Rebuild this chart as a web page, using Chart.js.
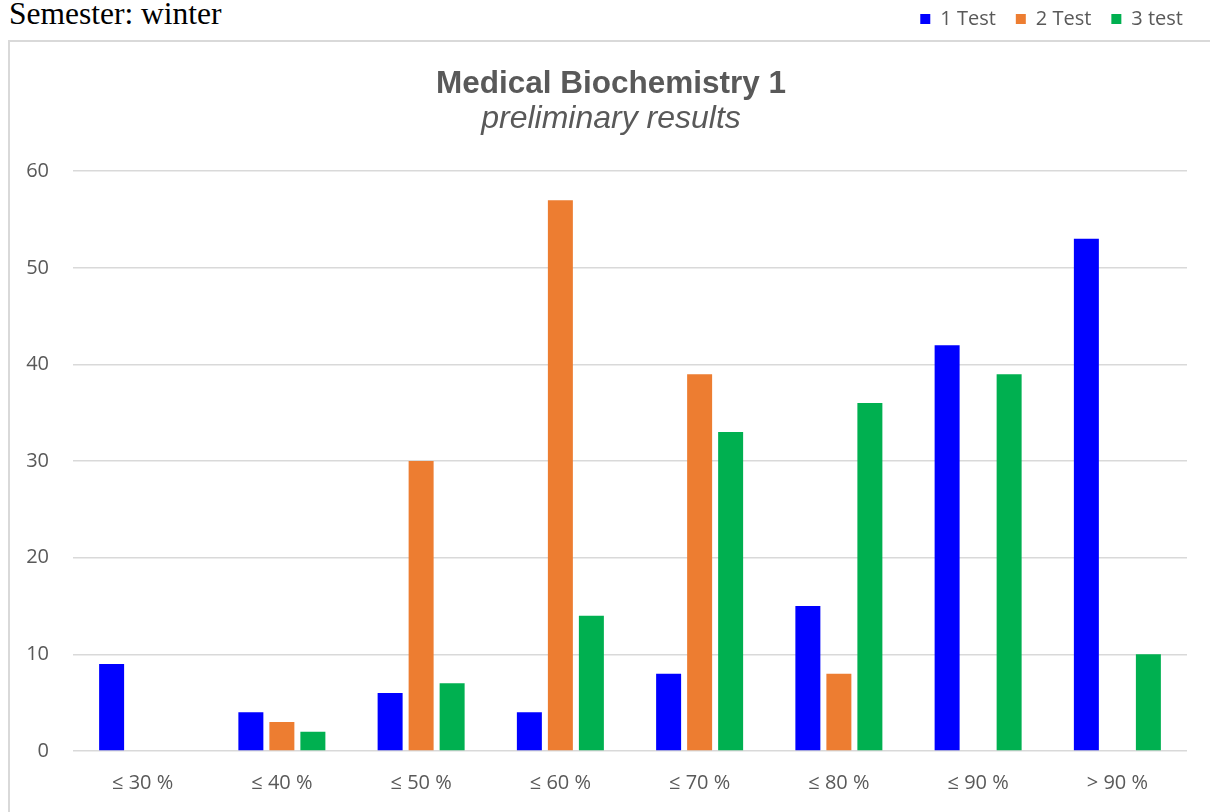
<!DOCTYPE html>
<html lang="en">
<head>
    <meta charset="UTF-8">
    <title>Medical Biochemistry 1 - preliminary results</title>
    <script src="https://cdn.jsdelivr.net/npm/chart.js"></script>
    <style>
        html, body {
            margin: 0;
            padding: 0;
            background: white;
            overflow: hidden;
        }
        #semestr {
            position: absolute;
            left: 9px;
            top: -2px;
            font-family: "Liberation Serif", "Times New Roman", serif;
            font-size: 31.5px;
            line-height: 31px;
            color: #000;
        }
        #ramecek {
            position: absolute;
            left: 8px;
            top: 40px;
            width: 1300px;
            height: 900px;
            border: 2px solid #d9d9d9;
        }
        #obal {
            position: absolute;
            left: 9px;
            top: 0;
            width: 1201px;
            height: 812px;
        }
    </style>
</head>
<body>
    <div id="semestr">Semester: winter</div>
    <div id="ramecek"></div>
    <div id="obal"><canvas id="graf"></canvas></div>

    <script>
        // kategorie (hranice úspěšnosti)
        const kategorie = ["≤ 30 %", "≤ 40 %", "≤ 50 %", "≤ 60 %", "≤ 70 %", "≤ 80 %", "≤ 90 %", "> 90 %"];

        // počty studentů v jednotlivých testech
        const test1 = [9, 4, 6, 4, 8, 15, 42, 53];
        const test2 = [null, 3, 30, 57, 39, 8, null, null];
        const test3 = [null, 2, 7, 14, 33, 36, 39, 10];

        const nazvyTestu = ["1 Test", "2 Test", "3 test"];
        const osaY = { min: 0, max: 60, krok: 10 };

        const seda = "#595959";
        const pismo = "'Open Sans', 'Noto Sans', sans-serif";
        const arial = "'Liberation Sans', Arial, sans-serif";

        // legenda a nadpisy v originále sedí jinde, než dovolí layout
        const posuny = {
            id: "posuny",
            afterLayout(chart) {
                for (const box of chart.boxes) {
                    if (box === chart.legend) {
                        box.left += 16;
                        box.right += 16;
                        box.top -= 11;
                        box.bottom -= 11;
                    } else if (box.isHorizontal && box.options && box.options.text) {
                        // title + subtitle
                        box.left += 13;
                        box.right += 13;
                    }
                }
            }
        };

        let ctx = document.getElementById("graf").getContext("2d");
        let graf = new Chart(ctx, {
            type: "bar",
            data: {
                labels: kategorie,
                datasets: [
                    { label: nazvyTestu[0], data: test1, backgroundColor: "#0000ff" },
                    { label: nazvyTestu[1], data: test2, backgroundColor: "#ed7d31" },
                    { label: nazvyTestu[2], data: test3, backgroundColor: "#00b050" }
                ]
            },
            plugins: [posuny],
            options: {
                responsive: true,
                maintainAspectRatio: false,
                animation: false,
                categoryPercentage: 0.668,
                barPercentage: 0.806,
                layout: { padding: { left: 0, right: 23, top: 0, bottom: 0 } },
                plugins: {
                    legend: {
                        position: "top",
                        align: "end",
                        weight: 3000,
                        labels: {
                            boxWidth: 10,
                            boxHeight: 10,
                            padding: 20,
                            color: seda,
                            font: { family: pismo, size: 20 }
                        }
                    },
                    title: {
                        display: true,
                        text: "Medical Biochemistry 1",
                        color: seda,
                        font: { family: arial, size: 31.5, weight: "bold" },
                        padding: { top: 15, bottom: 0 }
                    },
                    subtitle: {
                        display: true,
                        text: "preliminary results",
                        color: seda,
                        font: { family: arial, size: 32, style: "italic" },
                        padding: { top: -3, bottom: 33 }
                    },
                    tooltip: { enabled: false }
                },
                scales: {
                    x: {
                        grid: { display: false },
                        border: { display: false },
                        ticks: { color: seda, font: { family: pismo, size: 20 }, padding: 12 },
                        afterFit: (s) => { s.height = 61; }
                    },
                    y: {
                        min: osaY.min,
                        max: osaY.max,
                        grid: { color: "#d9d9d9", lineWidth: 1.5, drawTicks: false },
                        border: { display: false },
                        ticks: { stepSize: osaY.krok, color: seda, font: { family: pismo, size: 20 }, padding: 24 },
                        afterFit: (s) => { s.width = 64; }
                    }
                }
            }
        });
    </script>
</body>
</html>
